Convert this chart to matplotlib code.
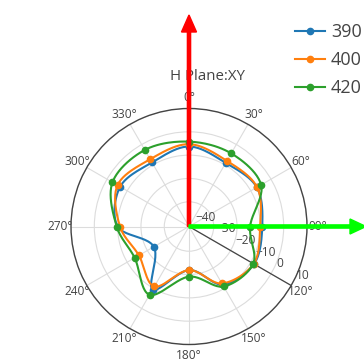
import numpy as np
import matplotlib
matplotlib.use("Agg")
import matplotlib.pyplot as plt
from matplotlib.patches import FancyArrow

# ---- data ----
angles_deg = [0, 30, 60, 90, 120, 150, 180, 210, 240, 270, 300, 330]
series_names = ["390", "400", "420"]
gain_390 = [-6.3, -9.1, -7.0, -9.2, -8.4, -11.9, -21.9, -9.4, -23.2, -10.0, -6.5, -8.9]
gain_400 = [-5.3, -8.1, -6.9, -10.1, -8.6, -12.4, -21.9, -10.9, -15.8, -11.0, -5.2, -7.3]
gain_420 = [-4.2, -4.4, -4.9, -14.4, -8.8, -10.9, -19.1, -6.8, -13.7, -9.6, -2.7, -2.7]
radial_ticks = [-40, -30, -20, -10, 0, 10]
angular_ticks = list(range(0, 360, 30))
title_text = "H Plane:XY"

colors = ["#1f77b4", "#ff7f0e", "#2ca02c"]
RMIN, RMAX = -40.6, 10

plt.rcParams['font.family'] = ['Open Sans', 'DejaVu Sans']

W, H = 364, 363
fig = plt.figure(figsize=(W / 100, H / 100), dpi=100)
cx, cy, R = 189, 226.5, 118
ax = fig.add_axes([(cx - R) / W, (H - cy - R) / H, 2 * R / W, 2 * R / H], projection='polar')
ax.set_theta_zero_location('N')
ax.set_theta_direction(-1)
ax.set_rlim(RMIN, RMAX)


def closed_spline(theta_deg, r, steps=24):
    """Catmull-Rom smoothing in screen space (like a plotly spline line)."""
    th = np.deg2rad(np.asarray(theta_deg, float))
    rr = np.asarray(r, float) - RMIN
    P = np.column_stack([rr * np.cos(th), rr * np.sin(th)])
    n = len(P)
    out = []
    for i in range(n):
        p0, p1, p2, p3 = P[(i - 1) % n], P[i], P[(i + 1) % n], P[(i + 2) % n]
        t = np.linspace(0, 1, steps, endpoint=False)[:, None]
        seg = 0.5 * ((2 * p1) + (-p0 + p2) * t + (2 * p0 - 5 * p1 + 4 * p2 - p3) * t ** 2
                     + (-p0 + 3 * p1 - 3 * p2 + p3) * t ** 3)
        out.append(seg)
    out.append(P[:1])
    Q = np.vstack(out)
    return np.arctan2(Q[:, 1], Q[:, 0]), np.hypot(Q[:, 0], Q[:, 1]) + RMIN, steps


handles = []
for name, vals, c in zip(series_names, [gain_390, gain_400, gain_420], colors):
    tt, rr, steps = closed_spline(angles_deg, vals)
    h, = ax.plot(tt, rr, color=c, lw=1.5, marker='o', ms=4.5,
                 markevery=list(range(0, len(tt) - 1, steps)), label=name, zorder=3)
    handles.append(h)

# grid / axes styling
ax.set_thetagrids(angular_ticks, [f"{a}°" for a in angular_ticks],
                  fontsize=8.6, color='#444444')
ax.set_rticks(radial_ticks)
ax.set_yticklabels([])
ax.grid(True, color='#dcdcdc', lw=0.8)
ax.spines['polar'].set_color('#444444')
ax.spines['polar'].set_linewidth(1.0)
ax.tick_params(axis='x', pad=-2.5, direction='out', length=3.5, color='#444444', width=0.8)
ax.tick_params(axis='y', length=0)

# radial axis line at 120 deg with tick labels
th120 = np.deg2rad(120)
ax.plot([th120, th120], [RMIN, RMAX], color='#444444', lw=0.9, zorder=2.5)
for v in radial_ticks:
    ax.annotate(f"{v}".replace('-', '\u2212'), xy=(th120, v), xytext=(5, 10),
                textcoords='offset pixels', ha='left', va='center',
                fontsize=8.6, color='#444444', zorder=2.6)

fig.text(208 / W, 1 - 76 / H, title_text, ha='center', va='center',
         fontsize=10.8, color='#444444')

fig.legend(handles=handles, labels=series_names, loc='upper left',
           bbox_to_anchor=(295 / W, 1 - 23 / H), frameon=False, fontsize=13,
           handlelength=1.65, handletextpad=0.35, labelspacing=0.55,
           borderpad=0, borderaxespad=0, labelcolor='#444444')

# arrows (in pixel-like inch coordinates)
x0, y0 = cx / 100, (H - cy) / 100
red = FancyArrow(x0, y0, 0, (cy - 15) / 100, width=0.032, head_width=0.15,
                 head_length=0.17, length_includes_head=True, color='#ff0000',
                 transform=fig.dpi_scale_trans, zorder=10)
green = FancyArrow(x0, y0, (W + 2 - cx) / 100, 0, width=0.032, head_width=0.15,
                   head_length=0.16, length_includes_head=True, color='#00ff00',
                   transform=fig.dpi_scale_trans, zorder=11)
fig.add_artist(red)
fig.add_artist(green)

fig.savefig("out.png", dpi=100)
